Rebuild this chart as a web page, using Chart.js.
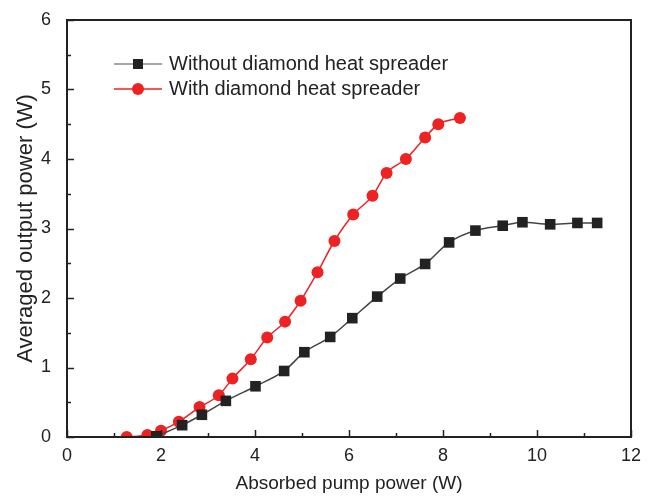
<!DOCTYPE html>
<html>
<head>
<meta charset="utf-8">
<script src="https://cdn.jsdelivr.net/npm/chart.js@4"></script>
<style>
  html, body { margin: 0; padding: 0; background: #fff; }
  #wrap { width: 657px; height: 499px; }
</style>
</head>
<body>
<div id="wrap"><canvas id="myChart" width="657" height="499"></canvas></div>
<script>
// absorbed pump power (W) / output power (W)
const xNoDiamond = [1.9, 2.45, 2.87, 3.38, 4.01, 4.62, 5.05, 5.6, 6.07, 6.6, 7.09, 7.62, 8.13, 8.69, 9.27, 9.69, 10.28, 10.86, 11.28];
const yNoDiamond = [0.01, 0.17, 0.32, 0.52, 0.73, 0.95, 1.22, 1.44, 1.71, 2.02, 2.28, 2.49, 2.8, 2.97, 3.04, 3.09, 3.06, 3.08, 3.08];
const xDiamond = [1.27, 1.71, 2.0, 2.38, 2.82, 3.23, 3.52, 3.91, 4.26, 4.64, 4.97, 5.33, 5.69, 6.09, 6.5, 6.8, 7.21, 7.62, 7.9, 8.36];
const yDiamond = [0.0, 0.03, 0.09, 0.22, 0.43, 0.6, 0.84, 1.12, 1.43, 1.66, 1.96, 2.37, 2.82, 3.2, 3.47, 3.8, 4.0, 4.31, 4.5, 4.59];
const seriesNames = ['Without diamond heat spreader', 'With diamond heat spreader'];
const xTicks = [0, 2, 4, 6, 8, 10, 12];
const yTicks = [0, 1, 2, 3, 4, 5, 6];

const toPts = (xs, ys) => xs.map((x, i) => ({ x: x, y: ys[i] }));

const FONT = 'Liberation Sans, Arial, sans-serif';

// inward ticks, frame and legend
const framePlugin = {
  id: 'frame',
  afterDraw(chart) {
    const c = chart.ctx;
    const a = chart.chartArea;
    const xs = chart.scales.x, ys = chart.scales.y;
    c.save();
    c.strokeStyle = '#222';
    c.lineWidth = 2;
    c.strokeRect(a.left, a.top, a.right - a.left, a.bottom - a.top);
    c.lineWidth = 1.5;
    for (let v = 0; v <= 12; v += 1) {
      const px = Math.round(xs.getPixelForValue(v)) + 0.5;
      const len = v % 2 === 0 ? 7 : 4;
      c.beginPath(); c.moveTo(px, a.bottom); c.lineTo(px, a.bottom - len); c.stroke();
    }
    for (let v = 0; v <= 6; v += 0.5) {
      const py = Math.round(ys.getPixelForValue(v)) + 0.5;
      const len = Number.isInteger(v) ? 7 : 4;
      c.beginPath(); c.moveTo(a.left, py); c.lineTo(a.left + len, py); c.stroke();
    }
    // legend
    const items = [
      { color: '#888', mark: '#222', style: 'rect', y: 64 },
      { color: '#ee2222', mark: '#ee2222', style: 'circle', y: 89 }
    ];
    items.forEach((it, i) => {
      c.strokeStyle = it.color;
      c.lineWidth = 1.5;
      c.beginPath(); c.moveTo(114, it.y); c.lineTo(162, it.y); c.stroke();
      c.fillStyle = it.mark;
      if (it.style === 'rect') {
        c.fillRect(133, it.y - 5, 10, 10);
      } else {
        c.beginPath(); c.arc(138, it.y, 6, 0, Math.PI * 2); c.fill();
      }
      c.fillStyle = '#222';
      c.font = '20px ' + FONT;
      c.textBaseline = 'middle';
      c.fillText(seriesNames[i], 169, it.y);
    });
    c.restore();
  }
};

const ctx = document.getElementById('myChart').getContext('2d');
const myChart = new Chart(ctx, {
  type: 'scatter',
  data: {
    datasets: [{
      label: seriesNames[0],
      data: toPts(xNoDiamond, yNoDiamond),
      showLine: true,
      borderColor: '#444',
      borderWidth: 1.5,
      backgroundColor: '#222',
      pointStyle: 'rect',
      pointRadius: 7.5,
      pointBorderWidth: 0,
      cubicInterpolationMode: 'monotone'
    }, {
      label: seriesNames[1],
      data: toPts(xDiamond, yDiamond),
      showLine: true,
      borderColor: '#ee2222',
      borderWidth: 1.5,
      backgroundColor: '#ee2222',
      pointStyle: 'circle',
      pointRadius: 6,
      pointBorderWidth: 0,
      cubicInterpolationMode: 'monotone'
    }]
  },
  options: {
    responsive: false,
    animation: false,
    layout: { padding: { top: 20, right: 26, left: 0, bottom: 0 } },
    plugins: {
      legend: { display: false },
      tooltip: { enabled: false }
    },
    scales: {
      x: {
        type: 'linear',
        min: 0,
        max: 12,
        afterBuildTicks: (s) => { s.ticks = xTicks.map(v => ({ value: v })); },
        afterFit: (s) => { s.height = 62; },
        grid: { display: false },
        border: { display: false },
        ticks: { color: '#222', font: { family: FONT, size: 18 }, padding: 0 },
        title: { display: true, text: 'Absorbed pump power (W)', color: '#222', font: { family: FONT, size: 19 }, padding: { top: 10 } }
      },
      y: {
        type: 'linear',
        min: 0,
        max: 6,
        afterBuildTicks: (s) => { s.ticks = yTicks.map(v => ({ value: v })); },
        afterFit: (s) => { s.width = 67; },
        grid: { display: false },
        border: { display: false },
        ticks: { color: '#222', font: { family: FONT, size: 18 }, padding: 8 },
        title: { display: true, text: 'Averaged output power (W)', color: '#222', font: { family: FONT, size: 22 }, padding: { top: 13, bottom: 2 } }
      }
    }
  },
  plugins: [framePlugin]
});
</script>
</body>
</html>
